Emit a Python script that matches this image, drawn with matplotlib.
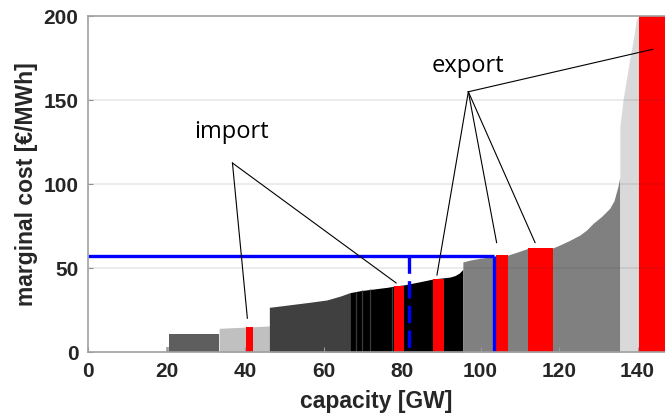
import numpy as np
import matplotlib
matplotlib.use("Agg")
import matplotlib.pyplot as plt

# ---- supply-curve blocks: capacity [GW] and marginal cost [€/MWh] ----
cap_sliver = [19.9, 20.6]
cost_sliver = [3.0, 3.0]
cap_a = [20.6, 33.4]
cost_a = [10.5, 10.5]
cap_b = [33.4, 46.2]
cost_b = [14.1, 15.5]
cap_c = [46.2, 49.0, 52.4, 56.5, 60.9, 64.3, 66.7]
cost_c = [26.6, 27.4, 28.4, 29.6, 31.0, 33.3, 35.3]
cap_d = [66.7, 69.4, 72.8, 76.2, 78.3, 80.6, 84.5, 88.0, 90.7, 92.2, 93.5, 94.6, 95.5]
cost_d = [35.3, 36.5, 37.5, 38.5, 39.3, 40.0, 41.8, 43.5, 44.2, 44.6, 45.5, 47.0, 49.2]
cap_e = [95.5, 97.5, 99.9, 103.3, 103.9, 107.0, 109.5, 112.1, 118.4, 120.2, 122.5,
         125.3, 127.0, 128.7, 130.8, 132.9, 134.0, 135.0, 135.5]
cost_e = [53.6, 54.8, 55.8, 56.7, 57.0, 57.7, 59.6, 61.7, 61.9, 63.7, 66.2,
          69.6, 72.6, 76.6, 80.6, 85.5, 90.0, 98.4, 104.4]
cap_f = [135.5, 136.3, 137.2, 138.0, 139.0, 139.7, 140.5]
cost_f = [134.0, 150.0, 163.0, 174.0, 187.0, 198.0, 200.0]

# thin separators inside the black block
stripe_cap = [68.3, 69.8, 71.9, 77.4]

# import / export blocks (red)
red_start = [40.3, 78.0, 87.9, 103.9, 112.1, 140.5]
red_end = [42.1, 80.6, 90.7, 107.0, 118.4, 147.0]
red_cost = [14.7, 39.3, 43.5, 57.7, 61.9, 200.0]

# market clearing
price = 57.3
demand = 103.5
demand_dashed = 81.8

# annotation anchors
import_label = (36.6, 127.2)
import_from = (36.8, 112.5)
import_to_x = [40.6, 78.5]
import_to_y = [20.1, 41.1]
export_label = (96.8, 166.8)
export_from = (96.9, 154.9)
export_to_x = [88.9, 104.1, 113.9, 143.9]
export_to_y = [45.8, 65.1, 65.1, 180.2]

x_ticks = [0, 20, 40, 60, 80, 100, 120, 140]
y_ticks = [0, 50, 100, 150, 200]

plt.rcParams['font.family'] = ['Liberation Sans', 'DejaVu Sans']

fig = plt.figure(figsize=(6.65, 4.19), dpi=100)
ax = fig.add_axes([88 / 665, 67 / 419, (665 - 88) / 665, (352 - 16) / 419])

blocks = [
    (cap_sliver, cost_sliver, '#b0b0b0'),
    (cap_a, cost_a, '#5e5e5e'),
    (cap_b, cost_b, '#c0c0c0'),
    (cap_c, cost_c, '#404040'),
    (cap_d, cost_d, '#000000'),
    (cap_e, cost_e, '#808080'),
    (cap_f, cost_f, '#d9d9d9'),
]
for xs, ys, col in blocks:
    ax.fill_between(xs, 0, ys, color=col, linewidth=0, zorder=1)

ax.vlines(stripe_cap, 0, np.interp(stripe_cap, cap_d, cost_d), colors='#3a3a3a',
          linewidth=0.9, zorder=1.5)

widths = np.array(red_end) - np.array(red_start)
ax.bar(red_start, red_cost, width=widths, align='edge', color='#ff0000',
       linewidth=0, zorder=2)

# grid on top, faint
for yv in y_ticks[1:-1]:
    ax.axhline(yv, color='#262626', alpha=0.1, linewidth=1.2, zorder=3)

# blue clearing lines
ax.plot([0, demand], [price, price], color='#0000ff', linewidth=2.4, zorder=4,
        solid_capstyle='butt')
ax.plot([demand, demand], [price, 0], color='#0000ff', linewidth=2.4, zorder=4,
        solid_capstyle='butt')
ax.plot([demand_dashed, demand_dashed], [price, 0], color='#0000ff', linewidth=2.4,
        linestyle=(0, (5.2, 2.2)), zorder=4)

# annotations
for tx, ty in zip(import_to_x, import_to_y):
    ax.plot([import_from[0], tx], [import_from[1], ty], color='black', linewidth=0.8,
            zorder=5, clip_on=False)
for tx, ty in zip(export_to_x, export_to_y):
    ax.plot([export_from[0], tx], [export_from[1], ty], color='black', linewidth=0.8,
            zorder=5, clip_on=False)
ax.text(*import_label, 'import', ha='center', va='baseline', fontsize=17,
        family=['Open Sans', 'DejaVu Sans'], color='black', zorder=6)
ax.text(*export_label, 'export', ha='center', va='baseline', fontsize=17,
        family=['Open Sans', 'DejaVu Sans'], color='black', zorder=6)

ax.set_xlim(0, 147)
ax.set_ylim(0, 200)
ax.set_xticks(x_ticks)
ax.set_yticks(y_ticks)
ax.set_xticklabels([str(v) for v in x_ticks])
ax.set_yticklabels([str(v) for v in y_ticks])
ax.tick_params(direction='in', length=3.5, width=0.8, color='#9a9a9a',
               labelsize=15, labelcolor='#262626', pad=7)
for lab in ax.get_xticklabels() + ax.get_yticklabels():
    lab.set_fontweight('bold')

for side in ['left', 'bottom', 'top']:
    ax.spines[side].set_color('#a0a0a0')
    ax.spines[side].set_linewidth(1.2)
    ax.spines[side].set_zorder(7)
ax.spines['right'].set_visible(False)

ax.set_xlabel('capacity [GW]', fontsize=16.5, fontweight='bold', color='#262626',
              labelpad=7)
ax.set_ylabel('marginal cost [€/MWh]', fontsize=16.5, fontweight='bold',
              color='#262626', labelpad=4)

fig.savefig('out.png', dpi=100)
